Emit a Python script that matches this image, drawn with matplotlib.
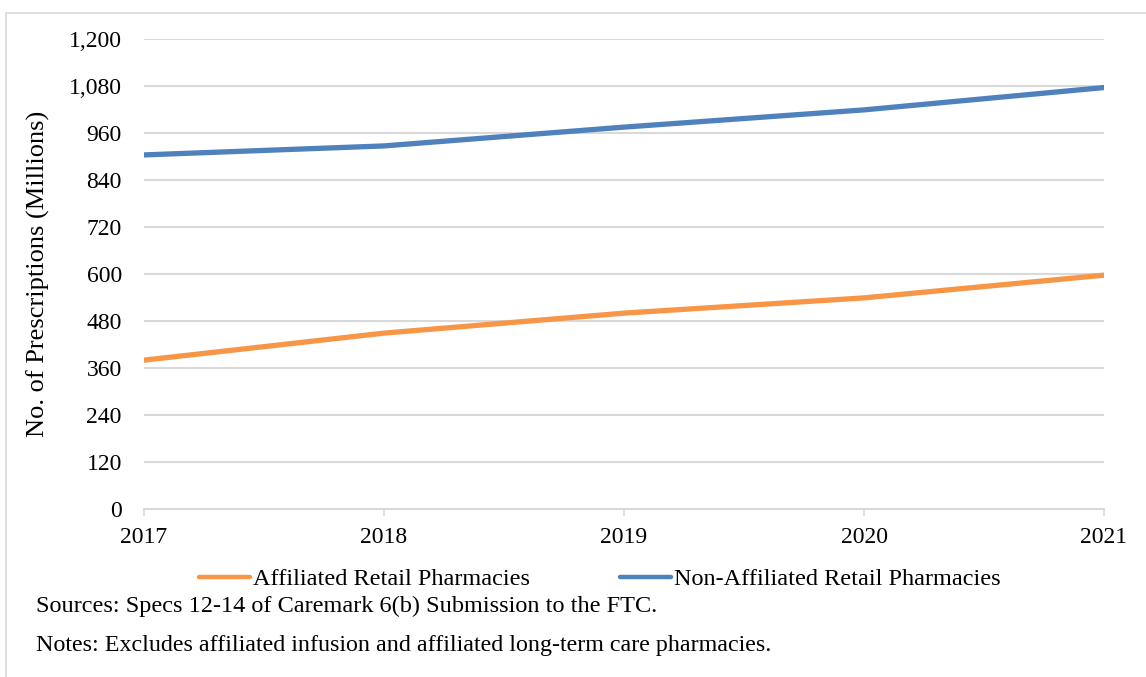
import matplotlib.pyplot as plt
from matplotlib.patches import Rectangle
from matplotlib.ticker import FuncFormatter

years = [2017, 2018, 2019, 2020, 2021]
affiliated = [380, 449, 500, 539, 597]
non_affiliated = [904, 927, 975, 1019, 1076]

plt.rcParams['font.family'] = ['Liberation Serif', 'DejaVu Serif']

fig = plt.figure(figsize=(11.46, 6.77), dpi=100)
ax = fig.add_axes([0.1257, 0.2482, 0.8377, 0.6942])

# thin outer frame of the chart area
fig.patches.append(Rectangle((6 / 1146, -0.05), 1.2, 1 - 13 / 677 + 0.05,
                             transform=fig.transFigure, fill=False,
                             edgecolor='#d9d9d9', linewidth=1.2))

ax.plot(years, affiliated, color='#F79646', linewidth=3.8,
        solid_capstyle='round', label='Affiliated Retail Pharmacies')
ax.plot(years, non_affiliated, color='#4F81BD', linewidth=3.8,
        solid_capstyle='round', label='Non-Affiliated Retail Pharmacies')

ax.set_xlim(2017, 2021)
ax.set_ylim(0, 1200)
ax.set_yticks(range(0, 1201, 120))
ax.set_xticks(years)
ax.yaxis.set_major_formatter(FuncFormatter(lambda v, p: f'{int(v):,}'))
ax.grid(axis='y', color='#d9d9d9', linewidth=1.5)
ax.set_axisbelow(True)

for s in ['top', 'right', 'left']:
    ax.spines[s].set_visible(False)
ax.spines['bottom'].set_color('#d9d9d9')
ax.spines['bottom'].set_linewidth(1.5)
ax.spines['bottom'].set_zorder(0)

ax.tick_params(axis='y', length=0, pad=16, labelsize=17)
ax.tick_params(axis='x', length=5, width=1.2, color='#d9d9d9', pad=8, labelsize=17)
ax.set_ylabel('No. of Prescriptions (Millions)', fontsize=19)
ax.yaxis.set_label_coords(-0.098, 0.5)

leg = fig.legend(loc='center', bbox_to_anchor=(600 / 1146, 1 - 579 / 677), ncol=2,
                 frameon=False, fontsize=17.5, handlelength=2.1, handletextpad=0.12,
                 columnspacing=3.7)
for line in leg.get_lines():
    line.set_linewidth(3.2)

fig.text(36 / 1146, 1 - 606 / 677, 'Sources: Specs 12-14 of Caremark 6(b) Submission to the FTC.',
         fontsize=17.5, va='center')
fig.text(36 / 1146, 1 - 646 / 677, 'Notes: Excludes affiliated infusion and affiliated long-term care pharmacies.',
         fontsize=17.3, va='center')

fig.savefig('out.png', dpi=100)
